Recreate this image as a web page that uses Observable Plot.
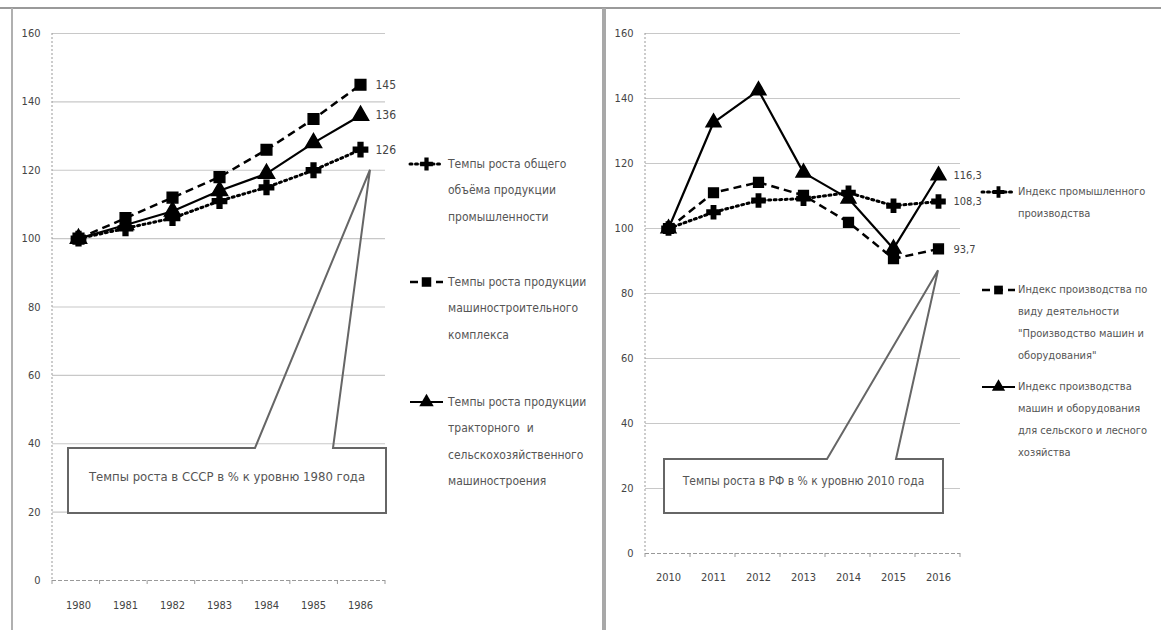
<!DOCTYPE html>
<html>
<head>
<meta charset="utf-8">
<script src="https://cdn.jsdelivr.net/npm/d3@7"></script>
<script src="https://cdn.jsdelivr.net/npm/@observablehq/plot@0.6"></script>
<style>
  html, body { margin: 0; padding: 0; background: #fff; }
  #wrap { position: relative; width: 1161px; height: 630px; overflow: hidden; background: #fff; }
  #left, #right { position: absolute; top: 0; }
  #left { left: 0; }
  #right { left: 605px; }
  .frame { position: absolute; background: #9a9a9a; }
</style>
</head>
<body>
<div id="wrap">
  <div id="left"></div>
  <div id="right"></div>
  <div class="frame" style="left:0;top:7px;width:1161px;height:2px;"></div>
  <div class="frame" style="left:11px;top:8px;width:2px;height:622px;background:#b0b0b0"></div>
  <div class="frame" style="left:602px;top:8px;width:4px;height:622px;background:#a8a8a8"></div>
</div>
<script>
// ---------- DATA ----------
const yearsUSSR = ["1980", "1981", "1982", "1983", "1984", "1985", "1986"];
const ussrIndustry = [100, 103, 106, 111, 115, 120, 126];
const ussrMachine = [100, 106, 112, 118, 126, 135, 145];
const ussrTractor = [100, 104, 108, 114, 119, 128, 136];
const ussrEndLabels = ["126", "145", "136"];
const ussrLegend = [
  ["Темпы роста общего", "объёма продукции", "промышленности"],
  ["Темпы роста продукции", "машиностроительного", "комплекса"],
  ["Темпы роста продукции", "тракторного  и", "сельскохозяйственного", "машиностроения"]
];
const ussrCallout = "Темпы роста в СССР в % к уровню 1980 года";

const yearsRF = ["2010", "2011", "2012", "2013", "2014", "2015", "2016"];
const rfIndustry = [100, 105, 108.6, 109.2, 111, 107, 108.3];
const rfMachine = [100, 111, 114.2, 110.2, 101.9, 90.7, 93.7];
const rfAgri = [100, 132.6, 142.5, 117.2, 109.2, 93.8, 116.3];
const rfEndLabels = ["108,3", "93,7", "116,3"];
const rfLegend = [
  ["Индекс промышленного", "производства"],
  ["Индекс производства по", "виду деятельности", "\"Производство машин и", "оборудования\""],
  ["Индекс производства", "машин и оборудования", "для сельского и лесного", "хозяйства"]
];
const rfCallout = "Темпы роста в РФ в % к уровню 2010 года";

const yTicks = [0, 20, 40, 60, 80, 100, 120, 140, 160];

// ---------- STYLE ----------
const FONT = "'Liberation Sans Narrow', 'DejaVu Sans Condensed', 'Arial Narrow', 'Liberation Sans', sans-serif";
const TEXT = "#555";
const seriesStyle = [
  {dash: "2,3.5", width: 3, symbol: "cross", lineCap: "round"},
  {dash: "8,5", width: 2.5, symbol: "square", lineCap: "butt"},
  {dash: null, width: 2.2, symbol: "triangle", lineCap: "butt"}
];

function rows(years, vals) { return years.map((year, i) => ({year, value: vals[i]})); }

function panel(cfg) {
  const series = cfg.series.map(v => rows(cfg.years, v));
  const marks = [
    Plot.ruleY(yTicks.filter(d => d > 0), {stroke: "#c8c8c8", strokeWidth: 1.2}),
    Plot.ruleY([0], {stroke: "#999", strokeDasharray: "4,2"})
  ];
  series.forEach((data, k) => {
    const s = seriesStyle[k];
    marks.push(Plot.line(data, {x: "year", y: "value", stroke: "#000", strokeWidth: s.width,
      strokeDasharray: s.dash, strokeLinecap: s.lineCap}));
  });
  series.forEach((data, k) => {
    const s = seriesStyle[k];
    marks.push(Plot.dot(data, {x: "year", y: "value", symbol: s.symbol, fill: "#000", stroke: "#000",
      r: cfg.dotR}));
    marks.push(Plot.text([data[data.length - 1]], {x: "year", y: "value", text: () => cfg.endLabels[k],
      dx: cfg.labelDx, textAnchor: "start", fill: "#444", fontSize: cfg.labelSize}));
  });
  const plot = Plot.plot({
    width: cfg.width, height: 630,
    marginLeft: cfg.ml, marginRight: cfg.mr, marginTop: cfg.mt, marginBottom: cfg.mb,
    style: {fontFamily: FONT, fontSize: "11px", color: "#444", background: "transparent", overflow: "visible"},
    x: {type: "point", domain: cfg.years, padding: 0.5, label: null, tickSize: 0, tickPadding: cfg.xPad},
    y: {domain: [0, 160], ticks: yTicks, label: null, tickSize: 0, tickPadding: 12},
    marks
  });
  const svg = d3.select(plot);
  const xs = plot.scale("x"), ys = plot.scale("y");
  // dotted y axis line
  svg.append("line").attr("x1", cfg.ml).attr("x2", cfg.ml)
    .attr("y1", cfg.mt).attr("y2", 630 - cfg.mb)
    .attr("stroke", "#999").attr("stroke-dasharray", "2,2");
  // small ticks on x baseline between categories
  const step = (cfg.width - cfg.ml - cfg.mr) / cfg.years.length;
  for (let i = 0; i <= cfg.years.length; i++) {
    svg.append("line").attr("x1", cfg.ml + i * step).attr("x2", cfg.ml + i * step)
      .attr("y1", 630 - cfg.mb).attr("y2", 630 - cfg.mb + 4).attr("stroke", "#999");
  }
  // callout
  const tipX = xs.apply(cfg.years[cfg.years.length - 1]) + cfg.tipDx;
  const tipY = ys.apply(cfg.tipValue);
  const b = cfg.box;
  const g = svg.append("g");
  g.append("rect").attr("x", b.x0).attr("y", b.y0).attr("width", b.x1 - b.x0).attr("height", b.y1 - b.y0)
    .attr("fill", "#fff");
  g.append("path").attr("d", `M${b.x0},${b.y1}L${b.x0},${b.y0}L${b.p0},${b.y0}L${tipX},${tipY}L${b.p1},${b.y0}L${b.x1},${b.y0}L${b.x1},${b.y1}Z`)
    .attr("fill", "none").attr("stroke", "#666").attr("stroke-width", 2);
  g.append("text").attr("x", (b.x0 + b.x1) / 2).attr("y", b.textY).attr("text-anchor", "middle")
    .attr("dominant-baseline", "middle").attr("fill", TEXT).attr("font-size", cfg.calloutSize)
    .attr("font-family", FONT).text(cfg.callout);
  // legend
  cfg.legend.forEach((lines, k) => {
    const s = seriesStyle[k];
    const L = cfg.legendPos[k];
    const lg = svg.append("g");
    lg.append("line").attr("x1", cfg.legX0).attr("x2", cfg.legX1).attr("y1", L).attr("y2", L)
      .attr("stroke", "#000").attr("stroke-width", s.width).attr("stroke-dasharray", s.dash)
      .attr("stroke-linecap", s.lineCap);
    const sym = {cross: d3.symbolCross, square: d3.symbolSquare, triangle: d3.symbolTriangle}[s.symbol];
    lg.append("path").attr("d", d3.symbol(sym, Math.PI * cfg.dotR * cfg.dotR * 0.8)())
      .attr("transform", `translate(${(cfg.legX0 + cfg.legX1) / 2},${L})`).attr("fill", "#000");
    lines.forEach((t, j) => {
      lg.append("text").attr("x", cfg.legTextX).attr("y", L + j * cfg.legLine)
        .attr("text-anchor", "start")
        .attr("dominant-baseline", "middle").attr("fill", TEXT).attr("font-size", cfg.legSize)
        .attr("font-family", FONT).text(t);
    });
  });
  return plot;
}

document.getElementById("left").appendChild(panel({
  years: yearsUSSR, series: [ussrIndustry, ussrMachine, ussrTractor], endLabels: ussrEndLabels,
  width: 605, ml: 52, mr: 220, mt: 33, mb: 50, xPad: 21, dotR: 6, labelDx: 15, labelSize: "12px",
  tipDx: 10, tipValue: 120,
  box: {x0: 68, x1: 386, y0: 448, y1: 513, p0: 255, p1: 333, textY: 477},
  callout: ussrCallout, calloutSize: "13px",
  legend: ussrLegend, legendPos: [164, 282, 402], legX0: 410, legX1: 443, legTextX: 448,
  legLine: 26.5, legSize: "12px"
}));

document.getElementById("right").appendChild(panel({
  years: yearsRF, series: [rfIndustry, rfMachine, rfAgri], endLabels: rfEndLabels,
  width: 556, ml: 40, mr: 201, mt: 33, mb: 77, xPad: 20, dotR: 5.5, labelDx: 15, labelSize: "11px",
  tipDx: 0, tipValue: 87,
  box: {x0: 59, x1: 338, y0: 459, y1: 513, p0: 222, p1: 291, textY: 481},
  callout: rfCallout, calloutSize: "12px",
  legend: rfLegend, legendPos: [192, 290, 387], legX0: 377, legX1: 410, legTextX: 413,
  legLine: 22, legSize: "11px"
}));
</script>
</body>
</html>
